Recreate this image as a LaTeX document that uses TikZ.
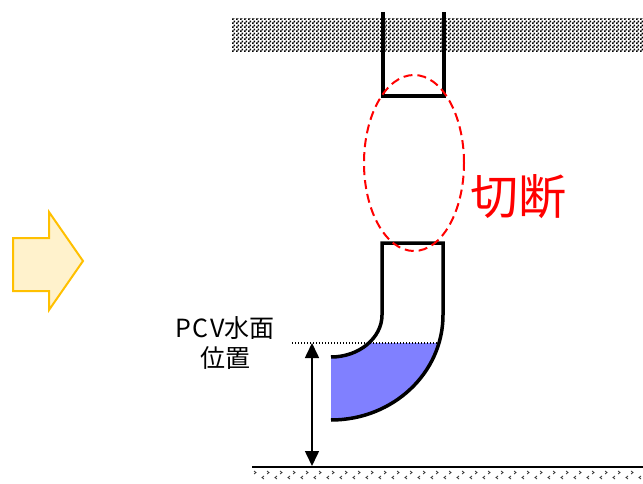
\documentclass[tikz,border=0pt]{standalone}
\usepackage{fontspec}
\newfontfamily\jpfont{Noto Sans CJK JP}
\usetikzlibrary{arrows.meta,patterns.meta}

\tikzdeclarepattern{
    name=checker,
    type=uncolored,
    bounding box={(0pt,0pt) and (4pt,4pt)},
    tile size={(4pt,4pt)},
    code={
        \pgfpathrectangle{\pgfpointorigin}{\pgfpoint{2pt}{2pt}}
        \pgfpathrectangle{\pgfpoint{2pt}{2pt}}{\pgfpoint{2pt}{2pt}}
        \pgfusepath{fill}
    }
}

\definecolor{arrowline}{RGB}{255,192,0}
\definecolor{arrowfill}{RGB}{255,242,204}
\definecolor{waterblue}{RGB}{128,128,255}

\tikzset{
    pipe/.style={line width=3.5pt, line join=miter},
    cutmark/.style={red, line width=2pt, dash pattern=on 9pt off 5pt},
    water/.style={fill=waterblue},
    level/.style={line width=1.3pt, dash pattern=on 1.3pt off 1.7pt},
    gauge/.style={line width=1.6pt, {Triangle[width=14pt,length=15pt]}-{Triangle[width=14pt,length=15pt]}},
    floormark/.style={draw=black!80, line width=0.8pt}
}

\begin{document}
\begin{tikzpicture}[x=1pt, y=-1pt]
    \useasboundingbox (0, 0) rectangle (643, 484);
    \draw[arrowline, fill=arrowfill, line width=2pt, line join=miter]
    (13, 238) -- (49, 238) -- (49, 212) -- (83, 261) -- (49, 310) -- (49, 291) -- (13, 291) -- cycle;
    \begin{scope}[shift={(0, 0)}]
        \fill[pattern=checker] (232, 19) rectangle (643, 52);
        \draw[pipe] (383, 12) -- (383, 96) -- (444, 96) -- (444, 12);
    \end{scope}
    \begin{scope}[shift={(0, 0)}]
        \begin{scope}
            \clip (0, 343) rectangle (643, 484);
            \fill[water]
            (331, 357) .. controls (359, 357) and (382, 338) .. (382, 315)
            -- (443, 315) .. controls (443, 373) and (393, 420) .. (331, 420) -- cycle;
        \end{scope}
        \draw[pipe]
        (331, 357) .. controls (359, 357) and (382, 338) .. (382, 315)
        -- (382, 243) -- (443, 243) -- (443, 315)
        .. controls (443, 373) and (393, 420) .. (331, 420);
    \end{scope}
    \draw[cutmark] (414, 163) ellipse [x radius=50pt, y radius=88pt];
    \node[text=red, font=\jpfont\fontsize{48}{56}\selectfont] (cut) at (518, 197) {切断};
    \node[font=\jpfont\fontsize{25}{30}\selectfont, align=center] (levellabel) at (225, 343)
    {{\addfontfeature{LetterSpace=6}PCV}水面\\位置};
    \coordinate (surface) at (292, 343);
    \coordinate (wall) at (437, 343);
    \draw[level] (surface) -- (wall);
    \coordinate (top) at (312, 343);
    \coordinate (bottom) at (312, 466);
    \draw[gauge] (top) -- (bottom);
    \foreach \i in {0, ..., 29} {
        \draw[floormark] (254 + 13*\i, 471) -- ++(2, 1.5) -- ++(-2, 1.5);
        \draw[floormark] (264 + 13*\i, 476) -- ++(-2, 1.5) -- ++(2, 1.5);
    }
    \draw[line width=1.5pt] (252, 467) -- (643, 467);
\end{tikzpicture}
\end{document}
